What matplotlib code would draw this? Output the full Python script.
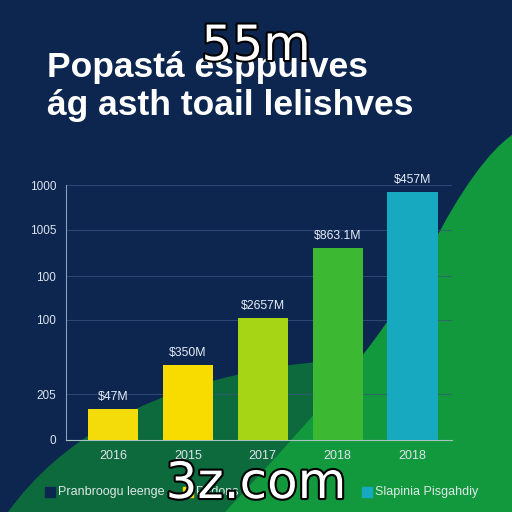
import matplotlib.pyplot as plt
import matplotlib.patheffects as pe
from matplotlib.path import Path
from matplotlib.patches import PathPatch, Rectangle

# --- data ---
years = ['2016', '2015', '2017', '2018', '2018']
values = [122, 294, 478, 753, 972]
value_labels = ['$47M', '$350M', '$2657M', '$863.1M', '$457M']
bar_colors = ['#f4dc0a', '#f8dc00', '#a6d515', '#3cb833', '#17a9bf']
ytick_pos = [0, 180, 471, 643, 824, 1000]
ytick_labels = ['0', '205', '100', '100', '1005', '1000']
legend_names = ['Pranbroogu leenge', 'Padons', 'Slapinia Pisgahdiy']
legend_colors = ['#0c2650', '#f8dc00', '#17a9bf']

NAVY = '#0c2650'
W = H = 512

fig = plt.figure(figsize=(5.12, 5.12), dpi=100, facecolor=NAVY)

# --- background shapes (pixel coords) ---
bg = fig.add_axes([0, 0, 1, 1], zorder=0)
bg.set_xlim(0, W); bg.set_ylim(H, 0); bg.axis('off')
bg.add_patch(Rectangle((0, 0), W, H, color=NAVY))
C, L, M = Path.CURVE4, Path.LINETO, Path.MOVETO
dark = Path([(8, 512), (60, 440), (150, 385), (290, 365), (512, 340), (512, 512), (8, 512)],
            [M, C, C, C, L, L, L])
bg.add_patch(PathPatch(dark, facecolor='#0d6a3c', lw=0))
bright = Path([(225, 512), (330, 400), (390, 330), (430, 250), (460, 190), (490, 150), (512, 135),
               (512, 512), (225, 512)],
              [M, C, C, C, C, C, C, L, L])
bg.add_patch(PathPatch(bright, facecolor='#13993d', lw=0))

# --- chart ---
ax = fig.add_axes([66 / W, 1 - 440 / H, 386 / W, 255 / H], zorder=2)
ax.patch.set_alpha(0)
x = list(range(len(years)))
bars = ax.bar(x, values, width=0.67, color=bar_colors, zorder=3)
for b, lab in zip(bars, value_labels):
    ax.annotate(lab, (b.get_x() + b.get_width() / 2, b.get_height()), xytext=(0, 12),
                textcoords='offset pixels', ha='center', va='center',
                color='#e8eef6', fontsize=8.8, family='Liberation Sans', zorder=4)
ax.set_xlim(-0.627, 4.527)
ax.set_ylim(0, 1000)
ax.set_xticks(x, years)
ax.set_yticks(ytick_pos, ytick_labels)
ax.tick_params(length=0, colors='#dde4ee', labelsize=8.5, pad=7)
ax.tick_params(axis='x', labelsize=9)
for t in ax.get_xticklabels() + ax.get_yticklabels():
    t.set_family('Liberation Sans')
ax.grid(axis='y', color='#3a5580', lw=0.8, alpha=0.7, zorder=1)
for s in ['top', 'right']:
    ax.spines[s].set_visible(False)
ax.spines['left'].set_color('#8a9cbc')
ax.spines['bottom'].set_color('#a8c4c0')

# --- title ---
fig.text(47 / W, 1 - 68 / H, 'Popastá esppulves', color='white', fontsize=25.5,
         fontweight='bold', family='Liberation Sans', va='center', zorder=5)
fig.text(47 / W, 1 - 105 / H, 'ág asth toail lelishves', color='white', fontsize=25.5,
         fontweight='bold', family='Liberation Sans', va='center', zorder=5)

# --- legend ---
leg_x = [45, 183, 362]
for lx, name, col in zip(leg_x, legend_names, legend_colors):
    bg.add_patch(Rectangle((lx, 487), 10, 10, color=col))
    bg.text(lx + 13, 492, name, color='#dde8e8', fontsize=9, family='Liberation Sans', va='center')

# --- watermarks ---
stroke = [pe.withStroke(linewidth=3, foreground='black')]
fig.text(0.5, 1 - 46 / H, '55m', color='white', fontsize=35, ha='center', va='center',
         path_effects=stroke, zorder=10)
fig.text(0.5, 1 - 484 / H, '3z.com', color='white', fontsize=36, ha='center', va='center',
         path_effects=stroke, zorder=10)

fig.savefig('out.png', dpi=100, facecolor=NAVY)
